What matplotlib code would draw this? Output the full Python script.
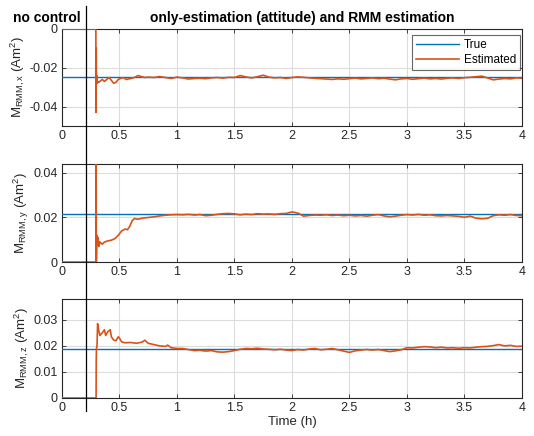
import matplotlib
matplotlib.use('Agg')
import matplotlib.pyplot as plt
from matplotlib.lines import Line2D

plt.rcParams['font.family'] = ['Liberation Sans', 'DejaVu Sans']
plt.rcParams['mathtext.fontset'] = 'custom'
plt.rcParams['mathtext.rm'] = 'Liberation Sans'
plt.rcParams['mathtext.it'] = 'Liberation Sans:italic'

BLUE = '#0072BD'
ORANGE = '#D95319'
TICK_GREY = '#262626'

# time at which the estimator starts / end of "no control" phase (h)
t_switch = 0.21

# --- x component ---
true_x = -0.0250
t_x = [0, 0.295, 0.296, 0.298, 0.300, 0.302, 0.305, 0.31, 0.32, 0.33, 0.35, 0.37,
       0.39, 0.41, 0.43, 0.45, 0.47, 0.49, 0.51, 0.53, 0.56, 0.60, 0.63, 0.66,
       0.69, 0.72, 0.75, 0.80,
       0.85, 0.90, 0.95, 1.00, 1.05, 1.10, 1.15, 1.20, 1.25, 1.30, 1.35, 1.40,
       1.45, 1.50, 1.55, 1.60, 1.65, 1.70, 1.75, 1.80, 1.85, 1.90, 1.95, 2.00,
       2.05, 2.10, 2.15, 2.20, 2.25, 2.30, 2.35, 2.40, 2.45, 2.50, 2.55, 2.60,
       2.65, 2.70, 2.75, 2.80, 2.85, 2.90, 2.95, 3.00, 3.05, 3.10, 3.15, 3.20,
       3.25, 3.30, 3.35, 3.40, 3.45, 3.50, 3.55, 3.60, 3.65, 3.70, 3.75, 3.80,
       3.85, 3.90, 3.95, 4.00]
est_x = [0, 0, -0.043, -0.010, -0.026, -0.024, -0.028, -0.027, -0.0275, -0.027, -0.026, -0.027,
         -0.026, -0.025, -0.0265, -0.028, -0.0275, -0.026, -0.0255, -0.025, -0.026, -0.0255, -0.025, -0.024,
         -0.0245, -0.025, -0.0248, -0.0250,
         -0.0245, -0.0250, -0.0255, -0.0248, -0.0252, -0.0258, -0.0255, -0.0254, -0.0256, -0.0252, -0.0250, -0.0253,
         -0.0249, -0.0250, -0.0240, -0.0247, -0.0252, -0.0246, -0.0238, -0.0248, -0.0252, -0.0250, -0.0255, -0.0250,
         -0.0247, -0.0249, -0.0252, -0.0254, -0.0256, -0.0258, -0.0260, -0.0257, -0.0259, -0.0256, -0.0253, -0.0257,
         -0.0255, -0.0252, -0.0256, -0.0254, -0.0258, -0.0262, -0.0257, -0.0255, -0.0259, -0.0256, -0.0253, -0.0257,
         -0.0255, -0.0258, -0.0254, -0.0252, -0.0255, -0.0251, -0.0249, -0.0246, -0.0243, -0.0252, -0.0262, -0.0258,
         -0.0255, -0.0257, -0.0252, -0.0254]

# --- y component ---
true_y = 0.0217
t_y = [0, 0.296, 0.297, 0.299, 0.302, 0.305, 0.31, 0.315, 0.32, 0.33, 0.35, 0.37,
       0.40, 0.43, 0.46, 0.49, 0.52, 0.55, 0.57, 0.59, 0.61, 0.63, 0.66, 0.70,
       0.75, 0.80, 0.85, 0.90, 0.95, 1.00,
       1.05, 1.10, 1.15, 1.20, 1.25, 1.30, 1.35, 1.40, 1.45, 1.50, 1.55, 1.60,
       1.65, 1.70, 1.75, 1.80, 1.85, 1.90, 1.95, 2.00, 2.03, 2.06, 2.10, 2.15,
       2.20, 2.25, 2.30, 2.35, 2.40, 2.45, 2.50, 2.55, 2.60, 2.65, 2.70, 2.75,
       2.80, 2.85, 2.90, 2.95, 3.00, 3.05, 3.10, 3.15, 3.20, 3.25, 3.30, 3.35,
       3.40, 3.45, 3.50, 3.55, 3.60, 3.65, 3.70, 3.75, 3.80, 3.85, 3.90, 3.95, 4.00]
est_y = [0, 0, 0.050, 0.0, 0.006, 0.012, 0.008, 0.011, 0.007, 0.009, 0.008, 0.009,
         0.0095, 0.0098, 0.0105, 0.012, 0.014, 0.0148, 0.0145, 0.016, 0.0185, 0.0195, 0.0192, 0.0197,
         0.0200, 0.0203, 0.0207, 0.0210, 0.0212, 0.0213,
         0.0212, 0.0214, 0.0211, 0.0213, 0.0208, 0.0210, 0.0214, 0.0217, 0.0218, 0.0216, 0.0212, 0.0215,
         0.0213, 0.0217, 0.0215, 0.0216, 0.0214, 0.0217, 0.0218, 0.0225, 0.0222, 0.0218, 0.0206, 0.0209,
         0.0211, 0.0210, 0.0212, 0.0209, 0.0211, 0.0208, 0.0210, 0.0207, 0.0209, 0.0206, 0.0210, 0.0213,
         0.0207, 0.0203, 0.0206, 0.0210, 0.0213, 0.0211, 0.0214, 0.0210, 0.0212, 0.0208, 0.0207, 0.0209,
         0.0207, 0.0205, 0.0201, 0.0206, 0.0197, 0.0194, 0.0196, 0.0208, 0.0212, 0.0210, 0.0213, 0.0209, 0.0208]

# --- z component ---
true_z = 0.0188
t_z = [0, 0.297, 0.298, 0.300, 0.305, 0.31, 0.32, 0.33, 0.35, 0.37, 0.38, 0.40,
       0.42, 0.43, 0.45, 0.47, 0.49, 0.50, 0.52, 0.55, 0.60, 0.65, 0.70, 0.72,
       0.75, 0.80, 0.85, 0.90, 0.92, 0.95, 1.00,
       1.05, 1.10, 1.15, 1.20, 1.25, 1.30, 1.35, 1.40, 1.45, 1.50, 1.55, 1.60,
       1.65, 1.70, 1.75, 1.80, 1.85, 1.90, 1.95, 2.00, 2.05, 2.10, 2.15, 2.20,
       2.25, 2.30, 2.35, 2.40, 2.45, 2.50, 2.55, 2.60, 2.65, 2.70, 2.75, 2.80,
       2.85, 2.90, 2.95, 3.00, 3.05, 3.10, 3.15, 3.20, 3.25, 3.30, 3.35, 3.40,
       3.45, 3.50, 3.55, 3.60, 3.65, 3.70, 3.75, 3.80, 3.85, 3.90, 3.95, 4.00]
est_z = [0, 0, 0.014, 0.019, 0.020, 0.0285, 0.026, 0.024, 0.025, 0.0262, 0.024, 0.0255,
         0.0262, 0.0235, 0.0222, 0.022, 0.0235, 0.023, 0.0215, 0.0212, 0.0213, 0.0210, 0.0215, 0.0222,
         0.0210, 0.0205, 0.0200, 0.0198, 0.0203, 0.0193, 0.0190,
         0.0190, 0.0186, 0.0182, 0.0183, 0.0180, 0.0182, 0.0177, 0.0176, 0.0178, 0.0182, 0.0187, 0.0190,
         0.0189, 0.0191, 0.0188, 0.0187, 0.0185, 0.0187, 0.0184, 0.0182, 0.0186, 0.0184, 0.0188, 0.0190,
         0.0185, 0.0187, 0.0190, 0.0185, 0.0180, 0.0175, 0.0181, 0.0184, 0.0186, 0.0184, 0.0186, 0.0182,
         0.0178, 0.0181, 0.0185, 0.0193, 0.0192, 0.0195, 0.0197, 0.0196, 0.0193, 0.0195, 0.0192, 0.0193,
         0.0191, 0.0193, 0.0192, 0.0195, 0.0197, 0.0198, 0.0201, 0.0205, 0.0200, 0.0202, 0.0198, 0.0199]

x_ticks = [0, 0.5, 1, 1.5, 2, 2.5, 3, 3.5, 4]
x_ticklabels = ['0', '0.5', '1', '1.5', '2', '2.5', '3', '3.5', '4']

panels = [
    dict(t=t_x, est=est_x, true=true_x, ylim=(-0.05, 0), yticks=[-0.04, -0.02, 0],
         yticklabels=['-0.04', '-0.02', '0'], comp='x', rect=[0.116, 0.711, 0.8614, 0.2225]),
    dict(t=t_y, est=est_y, true=true_y, ylim=(0, 0.044), yticks=[0, 0.02, 0.04],
         yticklabels=['0', '0.02', '0.04'], comp='y', rect=[0.116, 0.399, 0.8614, 0.2249]),
    dict(t=t_z, est=est_z, true=true_z, ylim=(0, 0.038), yticks=[0, 0.01, 0.02, 0.03],
         yticklabels=['0', '0.01', '0.02', '0.03'], comp='z', rect=[0.116, 0.0872, 0.8614, 0.2270]),
]

fig = plt.figure(figsize=(5.34, 4.36), dpi=100)
axes = []
for p in panels:
    ax = fig.add_axes(p['rect'])
    ax.axhline(p['true'], color=BLUE, lw=1.0, label='True', zorder=3)
    ax.plot(p['t'], p['est'], color=ORANGE, lw=1.2, label='Estimated', zorder=4)
    ax.set_xlim(0, 4)
    ax.set_ylim(*p['ylim'])
    ax.set_xticks(x_ticks)
    ax.set_xticklabels(x_ticklabels)
    ax.set_yticks(p['yticks'])
    ax.set_yticklabels(p['yticklabels'])
    ax.grid(True, color='#dcdcdc', lw=0.8)
    ax.set_axisbelow(True)
    ax.tick_params(direction='in', length=3, width=0.6, top=True, right=True,
                   labelsize=9, colors=TICK_GREY, pad=3)
    for s in ax.spines.values():
        s.set_color('#262626')
        s.set_linewidth(0.8)
    ax.set_ylabel(r'M$_{\mathrm{RMM,%s}}$ (Am$^2$)' % p['comp'], fontsize=9.5,
                  color=TICK_GREY, labelpad=2)
    axes.append(ax)

leg = axes[0].legend(loc='upper right', fontsize=8.5, frameon=True, fancybox=False,
                     borderpad=0.35, handlelength=3.6, handletextpad=0.4, labelspacing=0.25,
                     borderaxespad=0, bbox_to_anchor=(0.996, 0.94))
leg.get_frame().set_edgecolor('#404040')
leg.get_frame().set_linewidth(0.8)

axes[2].set_xlabel('Time (h)', fontsize=9.5, color=TICK_GREY, labelpad=1)

# boundary between the two phases, drawn across all panels
r = panels[0]['rect']
x_line = r[0] + t_switch / 4 * r[2]
fig.add_artist(Line2D([x_line, x_line], [1 - 6 / 436, 1 - 411 / 436],
                      transform=fig.transFigure, color='black', lw=0.9))

fig.text(47 / 534, 1 - 18 / 436, 'no control', ha='center', va='center',
         fontsize=10, fontweight='bold')
fig.text(302 / 534, 1 - 18 / 436, 'only-estimation (attitude) and RMM estimation',
         ha='center', va='center', fontsize=10, fontweight='bold')

fig.savefig('out.png', dpi=100)
